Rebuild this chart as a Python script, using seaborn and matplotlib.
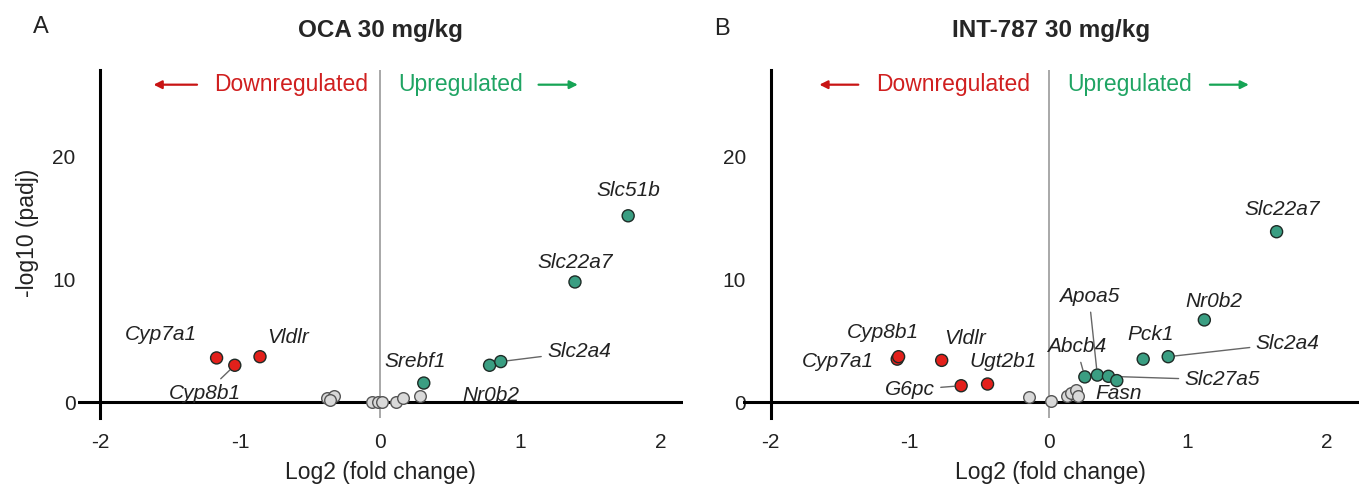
import matplotlib
matplotlib.use("Agg")
import matplotlib.pyplot as plt
import seaborn as sns
import pandas as pd

# panel A: OCA 30 mg/kg
oca_genes = ["Cyp7a1", "Cyp8b1", "Vldlr", "Srebf1", "Nr0b2", "Slc2a4", "Slc22a7", "Slc51b"]
oca_lfc = [-1.17, -1.04, -0.86, 0.31, 0.78, 0.86, 1.39, 1.77]
oca_padj = [3.6, 3.0, 3.7, 1.55, 3.0, 3.3, 9.8, 15.2]
oca_ns_lfc = [-0.38, -0.33, -0.36, -0.06, -0.02, 0.01, 0.11, 0.16, 0.28]
oca_ns_padj = [0.3, 0.5, 0.2, 0.0, 0.0, 0.0, 0.0, 0.3, 0.5]

# panel B: INT-787 30 mg/kg
int_genes = ["Cyp7a1", "Cyp8b1", "Vldlr", "G6pc", "Ugt2b1", "Abcb4", "Apoa5",
             "Slc27a5", "Fasn", "Pck1", "Slc2a4", "Nr0b2", "Slc22a7"]
int_lfc = [-1.09, -1.08, -0.77, -0.63, -0.44, 0.26, 0.35, 0.43, 0.49, 0.68, 0.86, 1.12, 1.64]
int_padj = [3.5, 3.7, 3.4, 1.33, 1.47, 2.05, 2.2, 2.1, 1.75, 3.5, 3.7, 6.7, 13.9]
int_ns_lfc = [-0.14, 0.02, 0.13, 0.16, 0.20, 0.21]
int_ns_padj = [0.4, 0.1, 0.5, 0.7, 1.0, 0.5]

# label placement (text position, optional leader)
oca_labels = {
    "Cyp7a1": ((-1.57, 5.5), False), "Cyp8b1": ((-1.25, 0.7), True),
    "Vldlr": ((-0.66, 5.3), False), "Srebf1": ((0.25, 3.3), False),
    "Nr0b2": ((0.79, 0.55), False), "Slc2a4": ((1.42, 4.1), True),
    "Slc22a7": ((1.39, 11.4), False), "Slc51b": ((1.77, 17.3), False),
}
int_labels = {
    "Cyp8b1": ((-1.19, 5.7), False), "Cyp7a1": ((-1.52, 3.3), False),
    "Vldlr": ((-0.6, 5.2), False), "Ugt2b1": ((-0.33, 3.3), False),
    "G6pc": ((-1.0, 1.0), True), "Abcb4": ((0.2, 4.5), True),
    "Apoa5": ((0.29, 8.6), True), "Slc27a5": ((1.25, 1.8), True),
    "Fasn": ((0.5, 0.7), False), "Pck1": ((0.73, 5.5), False),
    "Nr0b2": ((1.19, 8.2), False), "Slc2a4": ((1.72, 4.8), True),
    "Slc22a7": ((1.68, 15.7), False),
}

RED = "#e3201b"
GREEN = "#3a9e82"
palette = {"down": RED, "up": GREEN}

sns.set_style("white")
plt.rcParams["font.family"] = ["Liberation Sans", "DejaVu Sans"]
plt.rcParams["axes.unicode_minus"] = False

fig = plt.figure(figsize=(13.59, 4.86), dpi=100)
axA = fig.add_axes([0.0574, 0.14, 0.445, 0.716])
axB = fig.add_axes([0.5467, 0.14, 0.453, 0.716])


def volcano(ax, genes, lfc, padj, ns_lfc, ns_padj, labels, title, xlim, arrows):
    df = pd.DataFrame({"gene": genes, "lfc": lfc, "padj": padj})
    df["dir"] = ["down" if v < 0 else "up" for v in df["lfc"]]

    ax.axvline(0, color="#9a9a9a", lw=1.2, zorder=1)
    ax.axhline(0, color="black", lw=2.2, zorder=1)

    sns.scatterplot(x=ns_lfc, y=ns_padj, ax=ax, color="#d9d9d9", edgecolor="#555555",
                    linewidth=1.0, s=70, zorder=3, legend=False)
    sns.scatterplot(data=df, x="lfc", y="padj", hue="dir", palette=palette, ax=ax,
                    edgecolor="#1e2b26", linewidth=1.0, s=75, zorder=4, legend=False)

    for g, x, y in zip(genes, lfc, padj):
        if g not in labels:
            continue
        (tx, ty), leader = labels[g]
        if leader:
            ax.annotate(g, xy=(x, y), xytext=(tx, ty), ha="center", va="center",
                        fontsize=15, style="italic", color="#222222",
                        arrowprops=dict(arrowstyle="-", color="#666666", lw=1,
                                        shrinkA=2, shrinkB=5))
        else:
            ax.text(tx, ty, g, ha="center", va="center", fontsize=15,
                    style="italic", color="#222222")

    # direction hints
    (dx, ax0, ax1), (ux, ux0, ux1) = arrows
    ax.text(dx, 25.9, "Downregulated", color="#d01f1f", fontsize=16.5,
            ha="center", va="center")
    ax.annotate("", xy=(ax1, 25.9), xytext=(ax0, 25.9),
                arrowprops=dict(arrowstyle="-|>", color="#c81414", lw=1.6,
                                mutation_scale=12))
    ax.text(ux, 25.9, "Upregulated", color="#1fa463", fontsize=16.5,
            ha="center", va="center")
    ax.annotate("", xy=(ux1, 25.9), xytext=(ux0, 25.9),
                arrowprops=dict(arrowstyle="-|>", color="#16a455", lw=1.6,
                                mutation_scale=12))

    ax.set_xlim(*xlim)
    ax.set_ylim(-1.3, 27.1)
    ax.set_xticks([-2, -1, 0, 1, 2])
    ax.set_yticks([0, 10, 20])
    ax.spines["top"].set_visible(False)
    ax.spines["right"].set_visible(False)
    ax.spines["bottom"].set_visible(False)
    ax.spines["left"].set_position(("data", -2))
    ax.spines["left"].set_linewidth(2.2)
    ax.spines["left"].set_color("black")
    ax.tick_params(axis="x", length=0, pad=11, labelsize=15, colors="#222222")
    ax.tick_params(axis="y", length=0, pad=18, labelsize=15, colors="#222222")
    ax.set_xlabel("Log2 (fold change)", fontsize=16.5, color="#222222", labelpad=6)
    ax.set_ylabel("")
    ax.set_title(title, fontsize=17.5, fontweight="bold", pad=24)
    ax.grid(False)


volcano(axA, oca_genes, oca_lfc, oca_padj, oca_ns_lfc, oca_ns_padj, oca_labels,
        "OCA 30 mg/kg", (-2.16, 2.16), ((-0.64, -1.29, -1.64), (0.57, 1.11, 1.43)))
volcano(axB, int_genes, int_lfc, int_padj, int_ns_lfc, int_ns_padj, int_labels,
        "INT-787 30 mg/kg", (-2.2, 2.23), ((-0.69, -1.35, -1.67), (0.58, 1.14, 1.46)))

fig.text(0.02, 0.52, "-log10 (padj)", rotation=90, fontsize=16.5, color="#222222",
         ha="center", va="center")
fig.text(0.03, 0.945, "A", fontsize=17, ha="center", va="center", color="#222222")
fig.text(0.531, 0.94, "B", fontsize=17, ha="center", va="center", color="#222222")

fig.savefig("out.png", dpi=100)
